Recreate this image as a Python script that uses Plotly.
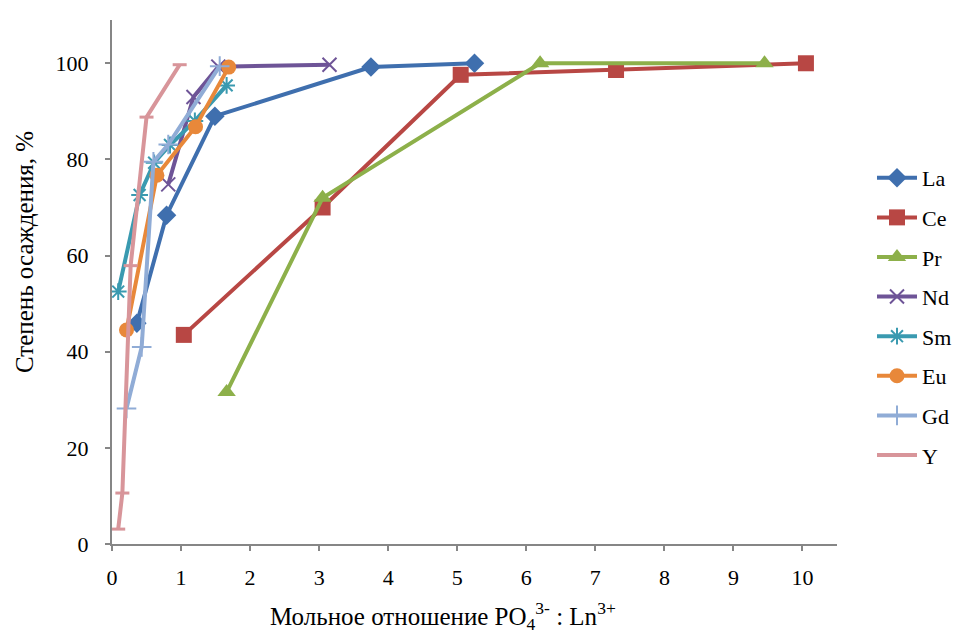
import plotly.graph_objects as go

# Data
la_x = [0.36, 0.79, 1.49, 3.75, 5.25]
la_y = [45.9, 68.4, 89.0, 99.2, 100.0]
ce_x = [1.04, 3.05, 5.05, 7.3, 10.05]
ce_y = [43.5, 70.0, 97.6, 98.6, 100.0]
pr_x = [1.66, 3.05, 6.2, 9.45]
pr_y = [31.6, 72.0, 100.0, 100.0]
nd_x = [0.815, 1.18, 1.54, 3.15]
nd_y = [74.8, 93.0, 99.3, 99.7]
sm_x = [0.09, 0.4, 0.61, 0.84, 1.2, 1.66]
sm_y = [52.5, 72.6, 79.3, 83.0, 88.0, 95.4]
eu_x = [0.21, 0.65, 1.21, 1.69]
eu_y = [44.5, 76.7, 86.8, 99.2]
gd_x = [0.21, 0.43, 0.6, 0.815, 1.56]
gd_y = [28.2, 41.0, 79.5, 83.1, 99.4]
y_x = [0.09, 0.15, 0.27, 0.5, 0.98]
y_y = [3.1, 10.6, 57.9, 88.8, 99.7]

x_title = "Мольное отношение PO<sub>4</sub><sup>3-</sup> : Ln<sup>3+</sup>"
y_title = "Степень осаждения, %"

series = [
    ("La", la_x, la_y, "#3F6FAE", "diamond", 15, 0),
    ("Ce", ce_x, ce_y, "#B84744", "square", 16, 0),
    ("Pr", pr_x, pr_y, "#8DB04A", "triangle-up", 16, 0),
    ("Nd", nd_x, nd_y, "#6E5497", "x-thin-open", 14, 2),
    ("Sm", sm_x, sm_y, "#3A9AB0", "asterisk-open", 14, 2),
    ("Eu", eu_x, eu_y, "#E8883A", "circle", 15, 0),
    ("Gd", gd_x, gd_y, "#90ACD6", "cross-thin-open", 14, 2),
    ("Y", y_x, y_y, "#D8959A", "line-ew-open", 10, 3),
]

fig = go.Figure()
for i, (name, xs, ys, col, sym, size, mlw) in enumerate(series):
    fig.add_trace(go.Scatter(
        x=xs, y=ys, name=name, mode="lines+markers",
        legendgroup=str(i),
        line=dict(color=col, width=4),
        marker=dict(symbol=sym, size=size, color=col,
                    line=dict(color=col, width=mlw)),
    ))

font = "Liberation Serif, Times New Roman, serif"
axis_common = dict(showgrid=False, zeroline=False, showline=True,
                   linecolor="#868686", linewidth=2, ticks="outside",
                   tickcolor="#868686", ticklen=5, tickwidth=2,
                   tickfont=dict(size=22), automargin=False)
fig.update_layout(
    width=963, height=634,
    margin=dict(l=112, r=126, t=20, b=90),
    plot_bgcolor="white", paper_bgcolor="white",
    font=dict(family=font, size=22, color="black"),
    showlegend=True,
    legend=dict(xref="container", yref="container",
                x=0.9055, y=0.7524, xanchor="left", yanchor="top",
                traceorder="grouped", tracegroupgap=8,
                font=dict(family=font, size=22), itemwidth=40,
                maxheight=1, bgcolor="rgba(0,0,0,0)"),
    xaxis=dict(range=[0, 10.5], tickmode="linear", tick0=0, dtick=1,
               ticklabelstandoff=8, **axis_common),
    yaxis=dict(range=[0, 109], tickmode="linear", tick0=0, dtick=20,
               ticklabelstandoff=12, **axis_common),
    annotations=[
        dict(text=x_title, xref="paper", yref="paper",
             x=(443 - 112) / 725, y=(544 - 616) / 524,
             xanchor="center", yanchor="middle", showarrow=False,
             font=dict(family=font, size=25)),
        dict(text=y_title, xref="paper", yref="paper",
             x=(25 - 112) / 725, y=(544 - 252) / 524, textangle=-90,
             xanchor="center", yanchor="middle", showarrow=False,
             font=dict(family=font, size=25)),
    ],
)

fig.write_html("out.html")
